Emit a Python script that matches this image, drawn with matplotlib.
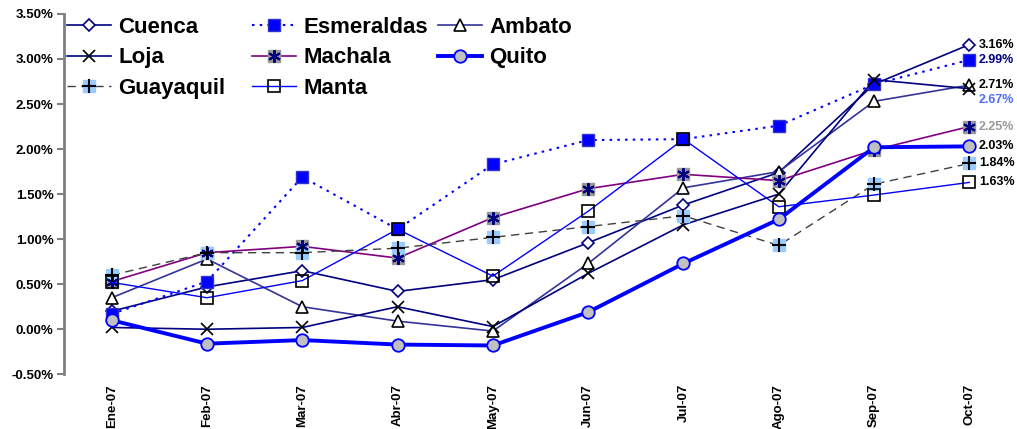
import matplotlib
matplotlib.use("Agg")
import matplotlib.pyplot as plt
from matplotlib.ticker import FuncFormatter, MultipleLocator

plt.rcParams['font.family'] = ['Liberation Sans', 'DejaVu Sans']
plt.rcParams['font.weight'] = 'bold'

months = ["Ene-07", "Feb-07", "Mar-07", "Abr-07", "May-07", "Jun-07", "Jul-07", "Ago-07", "Sep-07", "Oct-07"]

cuenca     = [0.20, 0.47, 0.65, 0.42, 0.55, 0.96, 1.38, 1.74, 2.72, 3.16]
esmeraldas = [0.17, 0.53, 1.69, 1.11, 1.83, 2.10, 2.11, 2.26, 2.72, 2.99]
ambato     = [0.35, 0.78, 0.25, 0.09, -0.02, 0.73, 1.57, 1.75, 2.53, 2.71]
loja       = [0.02, 0.00, 0.02, 0.25, 0.03, 0.62, 1.16, 1.50, 2.77, 2.67]
machala    = [0.53, 0.85, 0.92, 0.79, 1.24, 1.56, 1.72, 1.65, 1.99, 2.25]
quito      = [0.10, -0.16, -0.12, -0.17, -0.18, 0.19, 0.73, 1.22, 2.02, 2.03]
guayaquil  = [0.60, 0.85, 0.85, 0.90, 1.02, 1.14, 1.26, 0.93, 1.61, 1.84]
manta      = [0.52, 0.35, 0.54, 1.11, 0.59, 1.31, 2.11, 1.36, 1.49, 1.63]

end_labels = ["3.16%", "2.99%", "2.71%", "2.67%", "2.25%", "2.03%", "1.84%", "1.63%"]

W, H = 1017, 429
fig = plt.figure(figsize=(W / 100, H / 100), dpi=100)
ax = fig.add_axes([0.063, 0.1275, 0.937, 0.84])
x = list(range(len(months)))

h_cuenca, = ax.plot(x, cuenca, color='#000080', lw=1.2, marker='D', ms=6,
                    mfc='white', mec='#000080', mew=1.2, label='Cuenca', zorder=3)
h_esm, = ax.plot(x, esmeraldas, color='#0000FF', lw=1.5, ls=(0, (1.2, 2.5)), marker='s', ms=8,
                 mfc='#0000FF', mec='#3333CC', mew=1, label='Esmeraldas', zorder=3)
h_amb, = ax.plot(x, ambato, color='#333399', lw=1.2, marker='^', ms=8,
                 mfc='white', mec='black', mew=1.2, label='Ambato', zorder=3)
h_loja, = ax.plot(x, loja, color='#000080', lw=1.2, marker='x', ms=9,
                  mec='black', mew=1.2, label='Loja', zorder=3)
h_mach1, = ax.plot(x, machala, color='#800080', lw=1.2, marker='s', ms=8,
                   mfc='#999999', mec='#999999', label='Machala', zorder=3)
h_mach2, = ax.plot(x, machala, ls='none', marker=(6, 2, 0), ms=9,
                   mec='#000080', mew=1.5, zorder=3.1)
h_quito, = ax.plot(x, quito, color='#0000FF', lw=2.8, marker='o', ms=9,
                   mfc='#C0C0C0', mec='#0000FF', mew=1.3, label='Quito', zorder=4)
h_guay1, = ax.plot(x, guayaquil, color='#404040', lw=1.0, ls=(0, (6, 4)), marker='s', ms=8,
                   mfc='#99CCFF', mec='#99CCFF', label='Guayaquil', zorder=3)
h_guay2, = ax.plot(x, guayaquil, ls='none', marker='+', ms=10,
                   mec='black', mew=1.5, zorder=3.1)
h_manta, = ax.plot(x, manta, color='#0000FF', lw=1.0, marker='s', ms=8,
                   mfc='none', mec='black', mew=1.2, label='Manta', zorder=3.2)

ax.set_xlim(-0.5, 9.5)
ax.set_ylim(-0.5, 3.5)
ax.yaxis.set_major_locator(MultipleLocator(0.5))
ax.yaxis.set_major_formatter(FuncFormatter(lambda v, p: f"{v:.2f}%"))
ax.set_xticks(x)
ax.set_xticklabels(months, rotation=90, fontsize=9.5, fontweight='bold', va='top')
ax.tick_params(axis='x', length=0, pad=7)
ax.tick_params(axis='y', direction='out', length=5, width=1.5, color='#808080',
               labelsize=9.5, pad=2.5)
for t in ax.get_yticklabels():
    t.set_fontweight('bold')
for s in ['top', 'right', 'bottom']:
    ax.spines[s].set_visible(False)
ax.spines['left'].set_color('#808080')
ax.spines['left'].set_linewidth(2)

# end labels
last_vals = [cuenca[-1], esmeraldas[-1], ambato[-1], loja[-1], machala[-1], quito[-1], guayaquil[-1], manta[-1]]
label_colors = ['black', '#000080', 'black', '#4D6BFF', '#999999', 'black', 'black', 'black']
offsets = [0, 0, 0, -8, 0, 0, 0, 0]
for val, lab, col, off in zip(last_vals, end_labels, label_colors, offsets):
    ax.annotate(lab, xy=(9, val), xytext=(7, off), textcoords='offset points',
                ha='left', va='center', fontsize=9, fontweight='bold', color=col,
                annotation_clip=False)

# legend: three columns of equal width
columns = [
    ([h_cuenca, h_loja, (h_guay1, h_guay2)], ['Cuenca', 'Loja', 'Guayaquil']),
    ([h_esm, (h_mach1, h_mach2), h_manta], ['Esmeraldas', 'Machala', 'Manta']),
    ([h_amb, h_quito], ['Ambato', 'Quito']),
]
col_x = [67, 252, 438]
for (hs, ls), cx in zip(columns, col_x):
    lg = fig.legend(hs, ls, loc='upper left', bbox_to_anchor=(cx / W, 1 - 17 / H),
                    frameon=False, prop={'size': 16, 'weight': 'bold'},
                    handlelength=2.0, handletextpad=0.3, labelspacing=0.42,
                    borderpad=0, borderaxespad=0)

fig.savefig("out.png", dpi=100)
